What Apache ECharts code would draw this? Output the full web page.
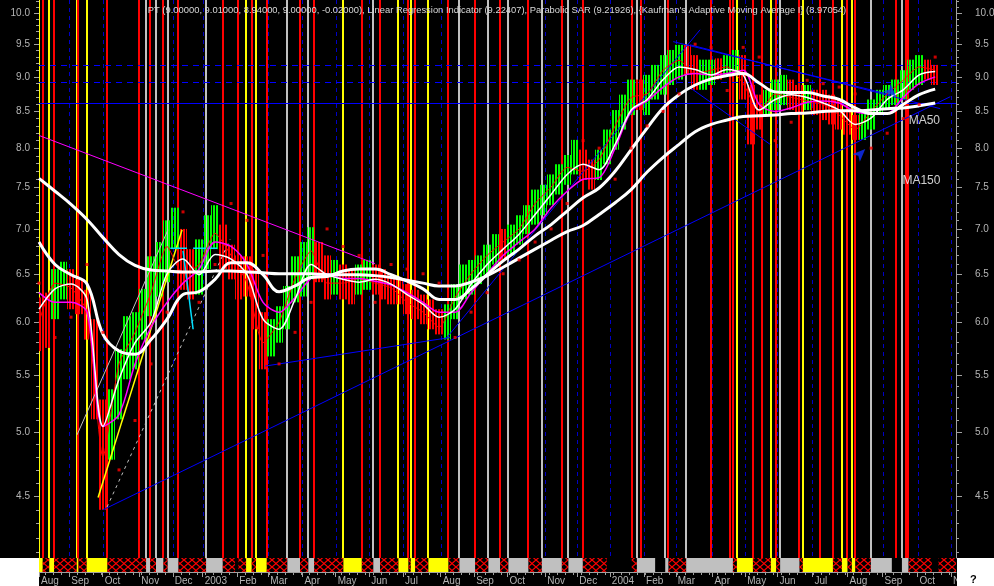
<!DOCTYPE html>
<html>
<head>
<meta charset="utf-8">
<script src="https://cdn.jsdelivr.net/npm/echarts@6.0.0/dist/echarts.min.js"></script>
<style>
html,body{margin:0;padding:0;background:#000;overflow:hidden;}
#chart{width:994px;height:586px;}
</style>
</head>
<body>
<div id="chart"></div>
<script>
// ---------- DATA (x = trading-day index from start of Aug 2002) ----------
const TITLE = "PT (9.00000, 9.01000, 8.94000, 9.00000, -0.02000), Linear Regression Indicator (9.22407), Parabolic SAR (9.21926), {Kaufman's Adaptive Moving Average I} (8.97054)";
const X_MAX = 573;
const P_MIN = 4.063, P_MAX = 10.22;
const monthTicks = [0,18.9,39.8,62.7,83.6,102.3,123.9,143.3,164.6,185.4,206.3,227.5,251,271.9,292.7,316.3,336.4,356.7,378.1,397.9,420.8,441.3,461.4,483.3,505.2,527.1,549,569.8];
const monthLabels = ['Aug','Sep','Oct','Nov','Dec','2003','Feb','Mar','Apr','May','Jun','Jul','Aug','Sep','Oct','Nov','Dec','2004','Feb','Mar','Apr','May','Jun','Jul','Aug','Sep','Oct','Nov'];
const priceTicks = [4.5,5.0,5.5,6.0,6.5,7.0,7.5,8.0,8.5,9.0,9.5,10.0];

// weekly price bars (one every 5 trading days)
const WEEK_STEP = 5;
const weekHigh = [6.25,6.30,6.55,6.63,6.55,6.44,6.33,6.03,5.28,5.37,
 5.74,6.06,6.10,6.34,6.69,6.85,7.10,7.25,7.00,6.77,
 6.88,7.16,7.28,7.05,6.82,6.70,6.69,6.55,6.10,6.03,
 6.16,6.37,6.69,6.85,7.02,6.85,6.70,6.65,6.60,6.55,
 6.60,6.65,6.60,6.55,6.49,6.44,6.39,6.33,6.28,6.23,
 6.13,6.18,6.39,6.60,6.65,6.70,6.82,6.94,7.00,7.05,
 7.16,7.28,7.47,7.53,7.66,7.79,7.91,8.11,7.98,7.85,
 7.98,8.25,8.52,8.74,8.96,8.96,9.03,9.18,9.33,9.41,
 9.49,9.49,9.33,9.26,9.26,9.28,9.33,9.41,9.33,8.88,
 8.74,8.81,8.96,9.03,8.96,8.88,8.88,8.81,8.81,8.74,
 8.67,8.52,8.45,8.52,8.67,8.81,8.88,8.96,9.10,9.26,
 9.33,9.26,9.18];
const weekLow = [5.72,5.75,6.03,6.23,6.13,6.08,5.83,5.11,4.40,4.78,
 5.11,5.46,5.55,5.83,6.06,6.26,6.41,6.77,6.33,6.23,
 6.28,6.55,6.77,6.55,6.44,6.23,6.26,5.93,5.55,5.67,
 5.80,5.93,6.20,6.26,6.44,6.41,6.23,6.28,6.23,6.18,
 6.28,6.33,6.28,6.23,6.18,6.18,6.08,6.03,5.98,5.93,
 5.88,5.83,6.03,6.23,6.28,6.39,6.49,6.60,6.65,6.70,
 6.82,6.94,7.05,7.16,7.28,7.41,7.53,7.66,7.59,7.47,
 7.59,7.79,7.98,8.25,8.45,8.52,8.45,8.67,8.74,8.88,
 8.96,9.03,8.81,8.81,8.88,8.96,9.03,9.03,8.67,8.05,
 8.25,8.45,8.52,8.59,8.52,8.45,8.52,8.45,8.38,8.32,
 8.25,8.18,8.11,8.11,8.25,8.45,8.52,8.59,8.67,8.81,
 8.88,8.96,8.88];
const weekUp = [0,0,1,1,0,0,0,0,0,1, 1,1,1,1,1,1,1,1,0,0, 1,1,1,0,0,0,0,0,0,1, 1,1,1,1,1,0,0,1,0,0,
 1,1,0,0,0,0,0,0,0,0, 0,1,1,1,1,1,1,1,0,1, 1,1,1,1,1,1,1,1,0,0, 1,1,1,1,1,0,1,1,1,1,
 1,0,0,1,1,0,1,1,0,0, 0,1,1,1,0,0,1,0,0,0, 0,0,0,1,1,1,1,1,1,1, 1,0,0];

// indicator lines, one point every 10 trading days
const LINE_STEP = 10;
const ma150 = [7.61,7.45,7.29,7.11,6.90,6.71,6.59,6.54,6.53,6.52,6.52,6.53,6.53,6.52,6.51,6.50,6.50,6.50,6.49,6.49,
 6.49,6.48,6.46,6.43,6.40,6.37,6.37,6.41,6.48,6.57,6.67,6.77,6.87,6.97,7.04,7.17,7.31,7.47,7.69,7.88,
 8.05,8.22,8.32,8.38,8.43,8.44,8.45,8.47,8.48,8.50,8.51,8.51,8.52,8.54,8.55,8.58,8.62];
const ma50 = [6.85,6.60,6.49,6.39,5.88,5.72,5.69,5.83,6.03,6.28,6.31,6.44,6.62,6.62,6.49,6.31,6.37,6.46,6.47,6.53,
 6.55,6.55,6.49,6.42,6.34,6.23,6.23,6.34,6.49,6.64,6.77,6.92,7.05,7.21,7.37,7.49,7.70,7.98,8.27,8.55,
 8.74,8.88,8.97,9.02,9.05,8.91,8.78,8.77,8.77,8.72,8.67,8.55,8.47,8.47,8.60,8.74,8.82];
const maShort = [6.13,6.34,6.39,6.23,5.05,5.46,5.80,6.00,6.50,6.66,6.49,6.71,6.66,6.49,6.03,5.93,6.23,6.60,6.49,6.44,
 6.41,6.44,6.39,6.28,6.18,6.05,6.13,6.39,6.60,6.77,6.94,7.17,7.41,7.66,7.79,7.72,8.05,8.52,8.67,8.96,
 9.15,9.11,9.03,9.11,9.03,8.52,8.67,8.74,8.70,8.62,8.52,8.32,8.41,8.67,8.81,9.03,9.08];
const kama = [6.30,6.20,6.20,6.10,5.05,5.15,5.60,5.95,6.20,6.40,6.55,6.85,6.80,6.60,6.20,6.10,6.25,6.45,6.50,6.45,
 6.45,6.42,6.38,6.30,6.20,6.10,6.10,6.30,6.50,6.70,6.85,7.00,7.25,7.45,7.60,7.62,8.00,8.50,8.65,8.85,
 9.00,9.05,9.03,9.05,9.10,8.60,8.50,8.55,8.63,8.65,8.62,8.50,8.47,8.47,8.70,8.90,9.00];
const linReg = [6.0,6.4,6.35,6.1,4.8,5.6,5.9,6.3,6.8,6.5,6.6,6.95,6.7,6.4,5.8,6.0,6.45,6.75,6.4,6.4,
 6.45,6.4,6.35,6.2,6.1,5.95,6.25,6.5,6.7,6.85,7.0,7.3,7.5,7.75,7.7,7.85,8.3,8.7,8.75,9.1,
 9.25,9.05,9.1,9.15,8.9,8.5,8.75,8.7,8.65,8.6,8.45,8.25,8.5,8.75,8.95,9.15,9.1];
const sar = [6.4,5.85,6.05,6.6,5.9,4.7,5.1,5.6,6.1,7.2,6.2,6.6,7.3,7.1,6.7,5.6,5.9,6.2,7.0,6.8,
 6.7,6.2,6.6,6.55,6.5,6.4,5.85,6.1,6.3,6.5,6.65,6.85,7.0,7.3,8.1,8.0,7.6,8.0,8.3,8.5,
 8.75,9.5,9.45,8.8,9.45,9.3,8.1,8.35,8.95,8.9,8.85,8.75,8.0,8.2,8.4,8.6,9.3];

// trend lines: [x1, p1, x2, p2]
const trendBlue = [[40,4.40,569.4,8.71],[141.3,5.58,256.9,5.85],[253.8,5.83,413.1,9.73],[396.3,9.54,531.9,8.74],[406.9,9.49,563.1,8.54],[406.9,8.84,456.9,8.05]];
const trendMagenta = [[0,8.17,210,6.61]];
const trendGray = [[23.75,4.98,80.6,6.99]];
const trendGrayDash = [[42.5,4.42,119.4,6.88]];
const trendYellow = [[36.9,4.49,89.4,6.99]];
const trendCyan = [[82,6.78,92.5,6.78],[96.3,6.78,111.3,6.78],[90,6.75,96.3,5.93]];
// arrows: [x, price, rotation]
const arrows = [[516.3, 7.99, -45], [535.6, 8.71, -135]];
// horizontal price levels
const levels = [9.18, 8.93, 8.62];
const levelDashed = [1, 1, 0];

// signal band segments (start index, type: y=yellow, h=hatched red, g=grey, k=none)
const bandStart = [0,2.3,6.4,9.4,23.6,24.6,29.8,42.7,62.7,66.9,69.4,73.1,77.7,80.4,87.1,104.4,114.8,122.5,124.6,129.4,
 132.9,135.6,142.3,155.2,163.1,168.3,171.9,190.2,201.7,208.9,213.1,224.6,230.8,232.3,235,243.3,255.8,262.7,272.5,280.8,
 288.1,293.3,305.8,314.2,326.7,330.8,339.8,354.8,370.4,373.6,385,391.3,393.3,404.4,433.6,436.1,446.1,457.3,460.6,463.1,
 475.2,477.3,496.1,501.7,505.2,507.9,510,519.8,532.9,539.2,543.3,557.9,562.1];
const bandType = 'yhyhyhyhhghghghghkhyhyhghghyhghyhyhyhghghghghghkhgkghghyhyhghyhyhyhgkghk';
// additional red signal lines inside hatched periods
const extraRed = [376.3, 419.8, 431.9, 451.9, 487.9, 535.3, 541.5];

const maLabels = [{text:'MA50', x:543.1, p:8.37},{text:'MA150', x:539.2, p:7.575}];

// ---------- CHART ----------
const L = v => Math.log10(v);
const Y_MIN = L(P_MIN), Y_MAX = L(P_MAX);
const AX = '#a0a0a0', TX = '#b4b4b4', FONT = 'Liberation Sans';
const majorY = priceTicks.map(L);
const minorY = [];
for (let i = 41; i <= 102; i++) minorY.push(L(i / 10));
const weekTicks = [];
for (let t = 3.8; t < X_MAX; t += 5) weekTicks.push(t);

function hatchPattern() {
  const c = document.createElement('canvas');
  c.width = 8; c.height = 7;
  const g = c.getContext('2d');
  g.strokeStyle = '#ff0000'; g.lineWidth = 1.2;
  g.beginPath(); g.moveTo(0, 0); g.lineTo(8, 7); g.moveTo(8, 0); g.lineTo(0, 7); g.stroke();
  return c;
}
function stripePattern(color) {
  const c = document.createElement('canvas');
  c.width = 3; c.height = 1;
  const g = c.getContext('2d');
  g.fillStyle = color; g.fillRect(0, 0, 2, 1);
  return c;
}
const HATCH = hatchPattern();
const STRIPE_UP = stripePattern('#00ff00'), STRIPE_DN = stripePattern('#ff0000');
const typeColor = {y:'#ffff00', h:'#ff0000', g:'#c0c0c0', k:null};

const bandData = bandStart.map((s, i) => [s, i + 1 < bandStart.length ? bandStart[i + 1] : X_MAX, 'yhgk'.indexOf(bandType[i])]);
const vlineData = bandData.map(d => [d[0], d[2]]).concat(extraRed.map(x => [x, 1]));
const weekData = weekHigh.map((h, i) => [i * WEEK_STEP, L(weekLow[i]), L(h), weekUp[i]]);
const lineData = arr => arr.map((v, i) => [i * LINE_STEP, L(v)]);
const trendData = [];
const trendStyles = [
  {color:'#0000ff', dash:null, w:1},
  {color:'#ff00ff', dash:null, w:1},
  {color:'#c0c0c0', dash:null, w:1},
  {color:'#c0c0c0', dash:[3,4], w:1},
  {color:'#ffff00', dash:null, w:1.5},
  {color:'#00e0ff', dash:null, w:1.5}
];
[trendBlue, trendMagenta, trendGray, trendGrayDash, trendYellow, trendCyan].forEach((set, si) => {
  set.forEach(t => trendData.push([t[0], L(t[1]), t[2], L(t[3]), si]));
});

const monthFmt = v => {
  const i = monthTicks.findIndex(m => Math.abs(m - v) < 1e-6);
  return i >= 0 ? monthLabels[i] : '';
};

function yAxisDef(pos, major) {
  return {
    gridIndex: 0, type: 'value', min: Y_MIN, max: Y_MAX, position: pos,
    axisLine: {show: major, lineStyle: {color: AX, width: 1}},
    axisTick: {show: true, customValues: major ? majorY : minorY, length: major ? (pos === 'left' ? 5 : 6) : 3, lineStyle: {color: AX}},
    axisLabel: major ? {show: true, customValues: majorY, formatter: v => Math.pow(10, v).toFixed(1),
      color: TX, fontSize: 10, fontFamily: FONT, margin: pos === 'left' ? 9 : 19} : {show: false},
    splitLine: {show: false}
  };
}

const option = {
  backgroundColor: '#000',
  animation: false,
  title: {text: TITLE, left: 'center', top: 1, textStyle: {color: '#d8d8d8', fontSize: 9.4, fontWeight: 'normal', fontFamily: FONT}},
  grid: [
    {left: 39, right: 38, top: 0, height: 558, outerBoundsMode: 'none'},
    {left: 39, right: 38, top: 558, height: 14, outerBoundsMode: 'none'}
  ],
  xAxis: [
    {gridIndex: 0, type: 'value', min: 0, max: X_MAX, show: false},
    {gridIndex: 1, type: 'value', min: 0, max: X_MAX, position: 'bottom',
      axisLine: {show: true, lineStyle: {color: AX}},
      axisTick: {show: true, customValues: monthTicks, length: 5, lineStyle: {color: AX}},
      axisLabel: {show: true, customValues: monthTicks, formatter: monthFmt, align: 'left', margin: 4, padding: [0,0,0,2], color: TX, fontSize: 10, fontFamily: FONT},
      splitLine: {show: false}},
    {gridIndex: 1, type: 'value', min: 0, max: X_MAX, position: 'bottom',
      axisLine: {show: false},
      axisTick: {show: true, customValues: weekTicks, length: 3, lineStyle: {color: AX}},
      axisLabel: {show: false}, splitLine: {show: false}}
  ],
  yAxis: [
    yAxisDef('left', true), yAxisDef('left', false), yAxisDef('right', true), yAxisDef('right', false),
    {gridIndex: 1, type: 'value', min: 0, max: 1, show: false}
  ],
  graphic: [
    {type: 'rect', shape: {x: 0, y: 558, width: 39, height: 28}, style: {fill: '#ffffff'}, z: 100},
    {type: 'rect', shape: {x: 957, y: 558, width: 37, height: 28}, style: {fill: '#ffffff'}, z: 100},
    {type: 'text', x: 970, y: 574, style: {text: '?', fill: '#000', font: 'bold 11px Liberation Sans'}, z: 101}
  ],
  series: [
    { // month grid lines
      type: 'custom', xAxisIndex: 0, yAxisIndex: 0, z: 1, silent: true, clip: true,
      data: monthTicks.map(m => [m]),
      renderItem: (params, api) => {
        const a = api.coord([api.value(0), Y_MAX]), b = api.coord([api.value(0), Y_MIN]);
        const x = Math.round(a[0]) + 0.5;
        return {type: 'line', shape: {x1: x, y1: a[1], x2: x, y2: b[1]}, style: {stroke: '#0000c8', lineWidth: 1, lineDash: [4, 4]}};
      }
    },
    { // signal verticals
      type: 'custom', xAxisIndex: 0, yAxisIndex: 0, z: 2, silent: true, clip: true,
      data: vlineData,
      renderItem: (params, api) => {
        const t = 'yhgk'[api.value(1)];
        if (!typeColor[t]) return null;
        const a = api.coord([api.value(0), Y_MAX]), b = api.coord([api.value(0), Y_MIN]);
        const x = Math.round(a[0]);
        return {type: 'line', shape: {x1: x, y1: a[1], x2: x, y2: b[1]}, style: {stroke: typeColor[t], lineWidth: 2}};
      }
    },
    { // horizontal levels
      type: 'custom', xAxisIndex: 0, yAxisIndex: 0, z: 3, silent: true, clip: true,
      data: levels.map((l, i) => [L(l), levelDashed[i]]),
      renderItem: (params, api) => {
        const a = api.coord([0, api.value(0)]), b = api.coord([X_MAX, api.value(0)]);
        const y = Math.round(a[1]) + 0.5;
        return {type: 'line', shape: {x1: a[0], y1: y, x2: b[0], y2: y},
          style: {stroke: '#0000ff', lineWidth: 1, lineDash: api.value(1) ? [6, 5] : null}};
      }
    },
    { // price bars
      type: 'custom', xAxisIndex: 0, yAxisIndex: 0, z: 4, silent: true, clip: true,
      data: weekData,
      renderItem: (params, api) => {
        const hi = api.coord([api.value(0), api.value(2)]), lo = api.coord([api.value(0), api.value(1)]);
        const w = api.size([WEEK_STEP, 0])[0];
        return {type: 'rect', shape: {x: Math.round(hi[0] - w / 2), y: hi[1], width: Math.round(w), height: lo[1] - hi[1]},
          style: {fill: {image: api.value(3) ? STRIPE_UP : STRIPE_DN, repeat: 'repeat'}}};
      }
    },
    { // trend lines
      type: 'custom', xAxisIndex: 0, yAxisIndex: 0, z: 5, silent: true, clip: true,
      data: trendData,
      renderItem: (params, api) => {
        const a = api.coord([api.value(0), api.value(1)]), b = api.coord([api.value(2), api.value(3)]);
        const s = trendStyles[api.value(4)];
        return {type: 'line', shape: {x1: a[0], y1: a[1], x2: b[0], y2: b[1]}, style: {stroke: s.color, lineWidth: s.w, lineDash: s.dash}};
      }
    },
    {type: 'line', name: 'LinReg', data: lineData(linReg), xAxisIndex: 0, yAxisIndex: 0, z: 6, showSymbol: false, smooth: 0.2,
      lineStyle: {color: '#ff0000', width: 1}, silent: true},
    {type: 'line', name: 'KAMA', data: lineData(kama), xAxisIndex: 0, yAxisIndex: 0, z: 7, showSymbol: false, smooth: 0.3,
      lineStyle: {color: '#ff00ff', width: 1.5}, silent: true},
    {type: 'line', name: 'MA short', data: lineData(maShort), xAxisIndex: 0, yAxisIndex: 0, z: 8, showSymbol: false, smooth: 0.3,
      lineStyle: {color: '#ffffff', width: 1.5}, silent: true},
    {type: 'line', name: 'MA150', data: lineData(ma150), xAxisIndex: 0, yAxisIndex: 0, z: 9, showSymbol: false, smooth: 0.4,
      lineStyle: {color: '#ffffff', width: 3}, silent: true},
    {type: 'line', name: 'MA50', data: lineData(ma50), xAxisIndex: 0, yAxisIndex: 0, z: 9, showSymbol: false, smooth: 0.4,
      lineStyle: {color: '#ffffff', width: 3}, silent: true},
    {type: 'scatter', name: 'SAR', data: lineData(sar), xAxisIndex: 0, yAxisIndex: 0, z: 10, symbol: 'rect', symbolSize: 3,
      itemStyle: {color: '#ff0000'}, silent: true},
    {type: 'scatter', name: 'arrows', xAxisIndex: 0, yAxisIndex: 0, z: 10, symbol: 'arrow', symbolSize: [8, 13], silent: true,
      itemStyle: {color: '#1030ff'},
      data: arrows.map(a => ({value: [a[0], L(a[1])], symbolRotate: a[2]}))},
    {type: 'scatter', name: 'labels', xAxisIndex: 0, yAxisIndex: 0, z: 11, symbolSize: 1, silent: true,
      itemStyle: {color: 'rgba(0,0,0,0)'},
      data: maLabels.map(m => ({value: [m.x, L(m.p)], label: {show: true, formatter: m.text}})),
      label: {show: true, position: 'right', distance: 0, color: '#ffffff', fontSize: 12, fontFamily: FONT}},
    { // signal band
      type: 'custom', xAxisIndex: 1, yAxisIndex: 4, z: 2, silent: true, clip: true,
      data: bandData,
      renderItem: (params, api) => {
        const t = 'yhgk'[api.value(2)];
        if (t === 'k') return null;
        const a = api.coord([api.value(0), 1]), b = api.coord([api.value(1), 0]);
        const fill = t === 'y' ? '#ffff00' : t === 'g' ? '#c0c0c0' : {image: HATCH, repeat: 'repeat'};
        return {type: 'rect', shape: {x: a[0], y: a[1], width: b[0] - a[0], height: b[1] - a[1]}, style: {fill: fill}};
      }
    }
  ]
};

const chart = echarts.init(document.getElementById('chart'), null, {renderer: 'canvas'});
chart.setOption(option);
</script>
</body>
</html>
